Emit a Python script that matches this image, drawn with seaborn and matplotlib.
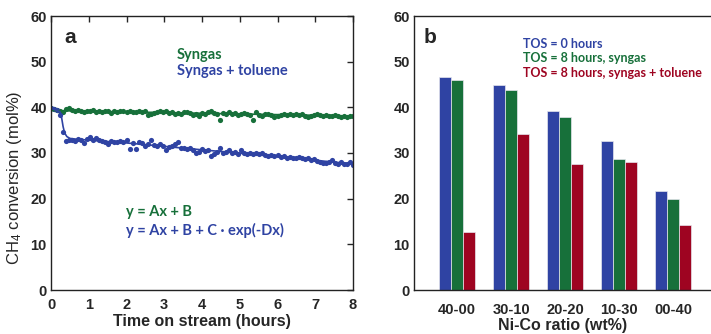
import numpy as np
import pandas as pd
import matplotlib
matplotlib.use("Agg")
import matplotlib.pyplot as plt
import seaborn as sns

sns.set_style("white")
plt.rcParams.update({
    'font.family': ['Liberation Sans', 'DejaVu Sans'],
    'font.weight': 'bold',
    'mathtext.fontset': 'custom',
    'mathtext.rm': 'Liberation Sans',
    'mathtext.default': 'regular',
    'axes.edgecolor': '#222222',
    'axes.linewidth': 1.0,
})

BLUE = '#2f43a3'
GREEN = '#17703a'
RED = '#9e0421'

# ---- panel a: CH4 conversion vs time on stream ----
time_h = [
    0.00, 0.08, 0.16, 0.24, 0.32, 0.40, 0.48, 0.56, 0.64, 0.72,
    0.80, 0.88, 0.96, 1.04, 1.12, 1.20, 1.28, 1.36, 1.44, 1.52,
    1.60, 1.68, 1.76, 1.84, 1.92, 2.00, 2.08, 2.16, 2.24, 2.32,
    2.40, 2.48, 2.56, 2.64, 2.72, 2.80, 2.88, 2.96, 3.04, 3.12,
    3.20, 3.28, 3.36, 3.44, 3.52, 3.60, 3.68, 3.76, 3.84, 3.92,
    4.00, 4.08, 4.16, 4.24, 4.32, 4.40, 4.48, 4.56, 4.64, 4.72,
    4.80, 4.88, 4.96, 5.04, 5.12, 5.20, 5.28, 5.36, 5.44, 5.52,
    5.60, 5.68, 5.76, 5.84, 5.92, 6.00, 6.08, 6.16, 6.24, 6.32,
    6.40, 6.48, 6.56, 6.64, 6.72, 6.80, 6.88, 6.96, 7.04, 7.12,
    7.20, 7.28, 7.36, 7.44, 7.52, 7.60, 7.68, 7.76, 7.84, 7.92,
    8.00,
]

syngas_conv = [
    39.9, 39.7, 39.5, 39.2, 38.9, 39.6, 39.8, 39.5, 39.3, 39.4,
    39.2, 39.0, 39.3, 39.1, 39.4, 39.0, 39.2, 38.9, 39.1, 39.3,
    38.8, 39.2, 39.0, 39.3, 39.1, 38.9, 39.2, 39.0, 38.9, 39.1,
    39.0, 39.2, 38.3, 38.6, 38.8, 39.0, 39.2, 38.9, 39.1, 38.8,
    38.9, 38.6, 38.8, 38.5, 38.9, 39.0, 38.7, 38.4, 38.6, 38.1,
    38.8, 38.6, 38.9, 39.1, 38.7, 38.5, 37.2, 38.8, 38.6, 38.9,
    38.5, 38.7, 38.4, 38.6, 38.8, 38.5, 38.3, 37.2, 38.9, 38.4,
    38.2, 38.5, 38.6, 38.3, 37.9, 38.0, 38.4, 38.6, 38.3, 38.5,
    38.4, 38.6, 38.3, 38.5, 38.2, 37.9, 38.1, 38.3, 38.5, 38.4,
    38.2, 38.3, 38.0, 38.2, 38.4, 38.1, 37.8, 38.2, 37.9, 38.1,
    38.0,
]

toluene_conv = [
    39.9, 39.7, 39.4, 38.3, 34.7, 32.7, 32.8, 32.9, 32.7, 33.0,
    32.8, 32.2, 33.1, 33.4, 32.9, 33.3, 32.8, 32.6, 32.3, 32.0,
    32.7, 32.5, 32.3, 32.6, 32.4, 32.8, 30.9, 32.2, 30.9, 32.4,
    32.1, 31.6, 32.0, 32.8, 31.7, 31.5, 31.9, 31.6, 30.6, 31.3,
    31.6, 31.9, 32.3, 31.0, 31.2, 30.9, 31.2, 30.6, 30.0, 30.3,
    30.8, 30.5, 30.7, 29.4, 29.8, 30.2, 31.1, 30.0, 30.3, 30.6,
    29.9, 30.2, 29.8, 30.6, 30.0, 29.7, 29.9, 29.8, 30.0, 29.7,
    29.9, 29.6, 29.4, 29.6, 29.3, 29.5, 29.1, 29.4, 28.9, 29.2,
    29.0, 28.8, 29.1, 28.9, 28.6, 28.8, 28.5, 28.7, 28.3, 28.1,
    27.9, 27.8, 28.0, 28.4, 27.9, 27.6, 28.0, 27.7, 27.5, 28.1,
    27.4,
]

# fitted curves
syngas_fit_t = [0.0, 8.0]
syngas_fit_y = [39.3, 38.1]
toluene_fit_t = [0.0, 0.24, 0.28, 0.32, 0.36, 0.42, 0.50, 0.70, 2.0, 4.0, 6.0, 8.0]
toluene_fit_y = [39.8, 39.0, 37.8, 35.8, 34.4, 33.6, 33.2, 33.0, 32.2, 30.7, 29.2, 27.6]

# ---- panel b: conversion by Ni-Co ratio ----
ratios = ['40-00', '30-10', '20-20', '10-30', '00-40']
tos_0h = [46.7, 44.8, 39.3, 32.6, 21.6]
tos_8h_syngas = [46.0, 43.8, 37.8, 28.7, 19.9]
tos_8h_toluene = [12.8, 34.2, 27.5, 28.0, 14.2]
series_names = ['TOS = 0 hours', 'TOS = 8 hours, syngas',
                'TOS = 8 hours, syngas + toluene']

bars = pd.DataFrame({
    'ratio': ratios * 3,
    'value': tos_0h + tos_8h_syngas + tos_8h_toluene,
    'series': [series_names[0]] * 5 + [series_names[1]] * 5 + [series_names[2]] * 5,
})

fig = plt.figure(figsize=(7.11, 3.34), dpi=100)
ax1 = fig.add_axes([51 / 711, 44 / 334, 302 / 711, 274 / 334])
ax2 = fig.add_axes([414 / 711, 44 / 334, 297 / 711, 274 / 334])

ann_font = ['Lato', 'DejaVu Sans']

# panel a
sns.lineplot(x=syngas_fit_t, y=syngas_fit_y, color=GREEN, linewidth=1.2,
             sort=False, estimator=None, ax=ax1)
sns.lineplot(x=toluene_fit_t, y=toluene_fit_y, color=BLUE, linewidth=1.2,
             sort=False, estimator=None, ax=ax1)
sns.scatterplot(x=time_h, y=syngas_conv, color=GREEN, s=14, linewidth=0, ax=ax1)
sns.scatterplot(x=time_h, y=toluene_conv, color=BLUE, s=14, linewidth=0, ax=ax1)

ax1.set_xlim(0, 8)
ax1.set_ylim(0, 60)
ax1.set_xticks(range(0, 9))
ax1.set_yticks(range(0, 61, 10))
ax1.tick_params(direction='in', top=True, right=True, length=4, width=1,
                labelsize=10.5, pad=6)
ax1.tick_params(axis='y', pad=3)
ax1.set_xlabel('Time on stream (hours)', fontsize=11.5, fontweight='bold', labelpad=1)
ax1.set_ylabel('CH$_4$ conversion (mol%)', fontsize=12, fontweight='normal')
ax1.yaxis.set_label_coords(-0.088, 0.41)
ax1.text(0.35, 55.4, 'a', fontsize=15, fontweight='bold', va='center')
ax1.text(3.34, 51.5, 'Syngas', color=GREEN, fontsize=10.5, fontweight='bold',
         family=ann_font, va='center')
ax1.text(3.34, 48.0, 'Syngas + toluene', color=BLUE, fontsize=10.5, fontweight='bold',
         family=ann_font, va='center')
ax1.text(2.0, 17.1, 'y = Ax + B', color=GREEN, fontsize=10.5, fontweight='bold',
         family=ann_font, va='center')
ax1.text(2.0, 13.1, 'y = Ax + B + C \u00b7 exp(-Dx)', color=BLUE, fontsize=10.5,
         fontweight='bold', family=ann_font, va='center')

# panel b
sns.barplot(data=bars, x='ratio', y='value', hue='series',
            palette=[BLUE, GREEN, RED], width=0.667, saturation=1,
            edgecolor='#e6e6ee', linewidth=0.5, legend=False, ax=ax2)
ax2.set_xlim(-0.8, 4.7)
ax2.set_ylim(0, 60)
ax2.set_yticks(range(0, 61, 10))
ax2.spines['right'].set_visible(False)
ax2.tick_params(axis='y', direction='in', length=4, width=1, labelsize=10.5, pad=3)
ax2.tick_params(axis='x', length=0, labelsize=10.5, pad=9)
ax2.set_xlabel('Ni-Co ratio (wt%)', fontsize=11.5, fontweight='bold', labelpad=1)
ax2.set_ylabel('')
ax2.text(-0.62, 55.4, 'b', fontsize=15, fontweight='bold', va='center')
for i, (name, col) in enumerate(zip(series_names, [BLUE, GREEN, RED])):
    ax2.text(1.22, 53.9 - 3.2 * i, name, color=col, fontsize=9, fontweight='bold',
             family=ann_font, va='center')

fig.savefig('out.png', dpi=100)
